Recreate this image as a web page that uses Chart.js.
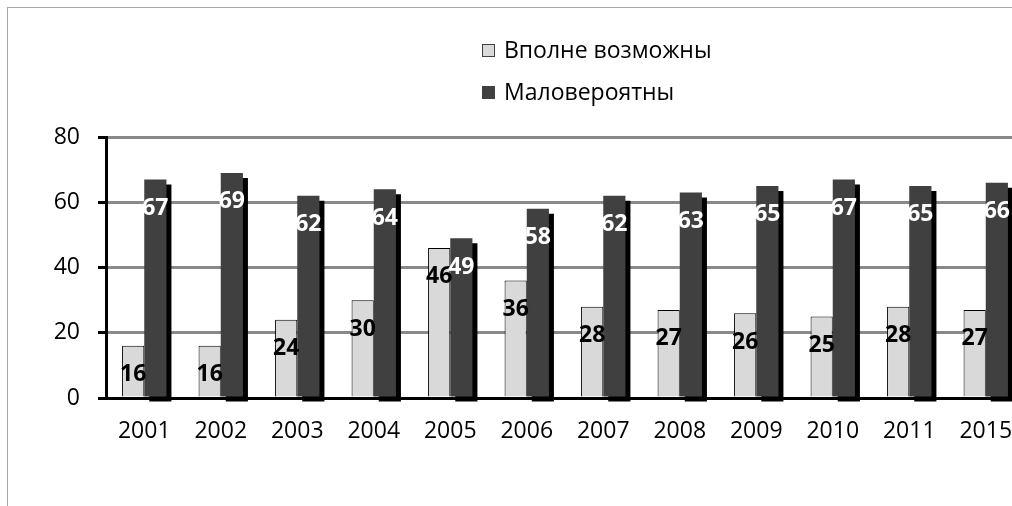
<!DOCTYPE html>
<html>
<head>
<meta charset="utf-8">
<script src="https://cdn.jsdelivr.net/npm/chart.js@4/dist/chart.umd.min.js"></script>
<style>
  html, body { margin: 0; padding: 0; background: #fff; overflow: hidden; }
  #frame { position: absolute; left: 7px; top: 7px; width: 1100px; height: 600px;
           border-top: 1px solid #a8a8a8; border-left: 1px solid #a8a8a8; }
  #wrap { position: absolute; left: 0; top: 0; width: 1040px; height: 506px; }
</style>
</head>
<body>
<div id="frame"></div>
<div id="wrap"><canvas id="chart"></canvas></div>
<script>
// данные с картинки
var years = ['2001', '2002', '2003', '2004', '2005', '2006', '2007', '2008', '2009', '2010', '2011', '2015'];
var vpolneVozmozhny = [16, 16, 24, 30, 46, 36, 28, 27, 26, 25, 28, 27];
var maloveroyatny = [67, 69, 62, 64, 49, 58, 62, 63, 65, 67, 65, 66];
var seriesNames = ['Вполне возможны', 'Маловероятны'];
var yTicks = [0, 20, 40, 60, 80];

var FONT = '"Open Sans", "Noto Sans", sans-serif';

// тень справа-снизу у тёмных столбиков
var shadowPlugin = {
    id: 'barShadow',
    beforeDatasetDraw: function (chart, args) {
        if (args.index !== 1) return;
        var ctx = chart.ctx;
        ctx.save();
        ctx.shadowColor = '#000';
        ctx.shadowOffsetX = 5;
        ctx.shadowOffsetY = 5;
        ctx.shadowBlur = 0;
    },
    afterDatasetDraw: function (chart, args) {
        if (args.index !== 1) return;
        chart.ctx.restore();
    }
};

// подписи значений внутри столбиков
var labelPlugin = {
    id: 'barLabels',
    afterDatasetsDraw: function (chart) {
        var ctx = chart.ctx;
        ctx.save();
        ctx.font = 'bold 23px ' + FONT;
        ctx.textAlign = 'center';
        ctx.textBaseline = 'middle';
        chart.data.datasets.forEach(function (ds, i) {
            var meta = chart.getDatasetMeta(i);
            ctx.fillStyle = i === 0 ? '#000' : '#fff';
            meta.data.forEach(function (bar, j) {
                ctx.fillText(ds.data[j], bar.x, bar.y + 29);
            });
        });
        ctx.restore();
    }
};

// легенда столбиком сверху
var legendPlugin = {
    id: 'columnLegend',
    afterDraw: function (chart) {
        var ctx = chart.ctx;
        ctx.save();
        ctx.font = '23px ' + FONT;
        ctx.textBaseline = 'middle';
        ctx.textAlign = 'left';
        chart.data.datasets.forEach(function (ds, i) {
            var y = 51 + i * 42;
            ctx.fillStyle = ds.backgroundColor;
            ctx.fillRect(482, y - 7, 13, 13);
            if (i === 0) {
                ctx.strokeStyle = '#404040';
                ctx.lineWidth = 1;
                ctx.strokeRect(482.5, y - 6.5, 12, 12);
            }
            ctx.fillStyle = '#000';
            ctx.fillText(ds.label, 504, y);
        });
        ctx.restore();
    }
};

var ctx = document.getElementById('chart').getContext('2d');
var myChart = new Chart(ctx, {
    type: 'bar',
    data: {
        labels: years,
        datasets: [{
            label: seriesNames[0],
            data: vpolneVozmozhny,
            backgroundColor: '#d9d9d9',
            borderColor: '#000',
            borderWidth: 1,
            barPercentage: 1,
            categoryPercentage: 0.58
        }, {
            label: seriesNames[1],
            data: maloveroyatny,
            backgroundColor: '#404040',
            borderWidth: 0,
            barPercentage: 1,
            categoryPercentage: 0.58,
            clip: false
        }]
    },
    options: {
        responsive: true,
        maintainAspectRatio: false,
        animation: false,
        layout: { padding: { left: 0, top: 137, right: 16, bottom: 0 } },
        plugins: {
            legend: { display: false },
            tooltip: { enabled: false }
        },
        scales: {
            x: {
                grid: { display: false, drawTicks: false },
                border: { color: '#000', width: 3 },
                ticks: { color: '#000', font: { family: FONT, size: 23 }, padding: 20 },
                afterFit: function (s) { s.height = 108; }
            },
            y: {
                min: 0,
                max: 80,
                afterBuildTicks: function (s) {
                    s.ticks = yTicks.map(function (v) { return { value: v }; });
                },
                grid: { color: '#898989', lineWidth: 3, tickLength: 8, tickColor: '#000', tickWidth: 3 },
                border: { color: '#000', width: 3 },
                ticks: { color: '#000', font: { family: FONT, size: 23 }, padding: 18 },
                afterFit: function (s) { s.width = 106; }
            }
        }
    },
    plugins: [shadowPlugin, labelPlugin, legendPlugin]
});
</script>
</body>
</html>
